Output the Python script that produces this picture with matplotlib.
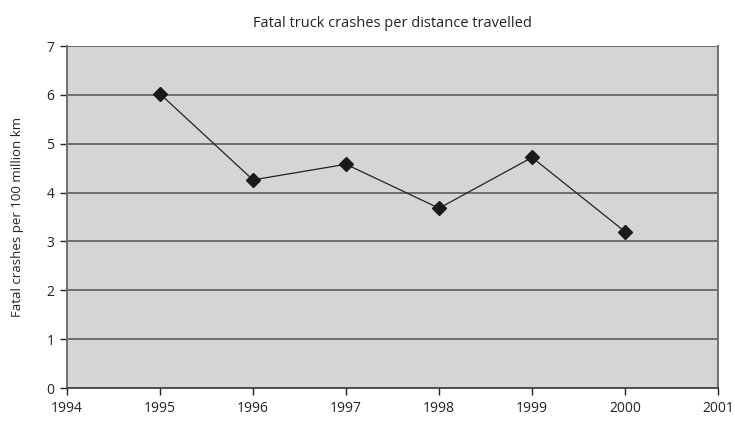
import matplotlib
matplotlib.use('Agg')
import matplotlib.pyplot as plt

# data
years = [1995, 1996, 1997, 1998, 1999, 2000]
crashes = [6.02, 4.26, 4.58, 3.68, 4.72, 3.20]
x_ticks = [1994, 1995, 1996, 1997, 1998, 1999, 2000, 2001]
y_ticks = [0, 1, 2, 3, 4, 5, 6, 7]

plt.rcParams['font.family'] = ['Open Sans', 'DejaVu Sans']

fig = plt.figure(figsize=(7.35, 4.23), dpi=100)
ax = fig.add_axes([0.0912, 0.0827, 0.8857, 0.8085])
ax.set_facecolor('#d4d5d7')

for y in y_ticks[1:]:
    ax.axhline(y, color='#6e6e6e', lw=1.4, zorder=1)

ax.plot(years, crashes, color='#222222', lw=0.9, marker='D', ms=7,
        markerfacecolor='#1a1a1a', markeredgecolor='#1a1a1a', zorder=3)

ax.set_xlim(1994, 2001)
ax.set_ylim(0, 7)
ax.set_xticks(x_ticks)
ax.set_yticks(y_ticks)
ax.tick_params(axis='both', labelsize=10, colors='#222222', length=5, width=1,
               direction='out', pad=4)

for side in ['left', 'right']:
    ax.spines[side].set_color('#6e6e6e')
    ax.spines[side].set_linewidth(1.4)
ax.spines['bottom'].set_color('#333333')
ax.spines['bottom'].set_linewidth(1.2)
ax.spines['top'].set_visible(False)

ax.set_ylabel('Fatal crashes per 100 million km', fontsize=9.5, color='#222222', labelpad=16)
ax.set_title('Fatal truck crashes per distance travelled', fontsize=10.5, color='#222222', pad=14)

fig.savefig('out.png', dpi=100)
